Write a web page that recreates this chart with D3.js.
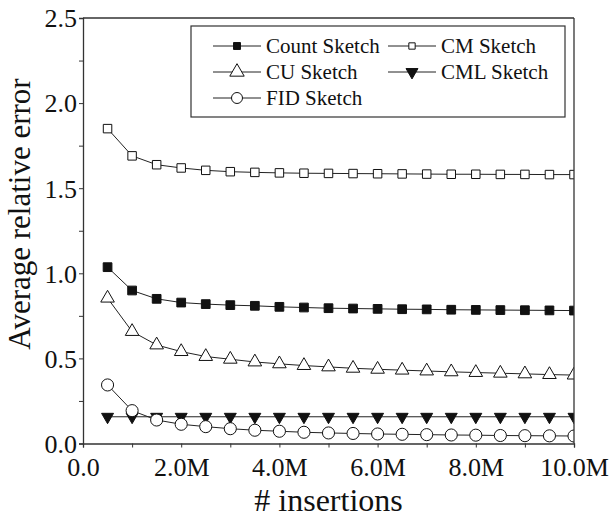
<!DOCTYPE html>
<html>
<head>
<meta charset="utf-8">
<script src="https://cdn.jsdelivr.net/npm/d3@7"></script>
<style>
  body { margin: 0; background: #fff; }
  svg { display: block; }
  svg text { fill: #111; }
</style>
</head>
<body>
<div id="chart"></div>
<script>
// insertions, in millions
var insertions = [0.5, 1.0, 1.5, 2.0, 2.5, 3.0, 3.5, 4.0, 4.5, 5.0,
                  5.5, 6.0, 6.5, 7.0, 7.5, 8.0, 8.5, 9.0, 9.5, 10.0];

var countSketch = [1.036, 0.899, 0.850, 0.828, 0.819, 0.813, 0.809, 0.803, 0.799, 0.795,
                   0.793, 0.791, 0.789, 0.788, 0.786, 0.785, 0.784, 0.783, 0.782, 0.781];
var cmSketch = [1.850, 1.690, 1.638, 1.619, 1.605, 1.597, 1.593, 1.590, 1.588, 1.587,
                1.586, 1.585, 1.584, 1.583, 1.582, 1.582, 1.581, 1.581, 1.580, 1.580];
var cuSketch = [0.854, 0.658, 0.579, 0.540, 0.511, 0.495, 0.479, 0.468, 0.458, 0.450,
                0.442, 0.436, 0.431, 0.426, 0.421, 0.417, 0.413, 0.409, 0.405, 0.402];
var cmlSketch = [0.157, 0.157, 0.157, 0.157, 0.157, 0.157, 0.157, 0.157, 0.157, 0.157,
                 0.157, 0.157, 0.157, 0.157, 0.157, 0.157, 0.157, 0.157, 0.157, 0.157];
var fidSketch = [0.344, 0.193, 0.138, 0.113, 0.099, 0.087, 0.078, 0.072, 0.066, 0.062,
                 0.059, 0.056, 0.054, 0.052, 0.050, 0.049, 0.047, 0.046, 0.045, 0.044];

var seriesNames = ["Count Sketch", "CM Sketch", "CU Sketch", "CML Sketch", "FID Sketch"];

var xTicks = [0, 2, 4, 6, 8, 10];
var xTickLabels = ["0.0", "2.0M", "4.0M", "6.0M", "8.0M", "10.0M"];
var yTicks = [0, 0.5, 1.0, 1.5, 2.0, 2.5];

var serif = "'Times New Roman', 'Liberation Serif', 'DejaVu Serif', serif";

var width = 609, height = 519;
var margin = {left: 83, right: 35, top: 18, bottom: 75.5};
var innerW = width - margin.left - margin.right;
var innerH = height - margin.top - margin.bottom;

var svg = d3.select("#chart").append("svg")
    .attr("width", width)
    .attr("height", height)
    .attr("font-family", serif);

var x = d3.scaleLinear().domain([0, 10]).range([0, innerW]);
var y = d3.scaleLinear().domain([0, 2.5]).range([innerH, 0]);

var g = svg.append("g")
    .attr("transform", "translate(" + margin.left + "," + margin.top + ")");

// clip so the last markers are cut by the frame like the original
svg.append("defs").append("clipPath").attr("id", "plotclip")
  .append("rect").attr("x", 0).attr("y", -10).attr("width", innerW).attr("height", innerH + 10);

// marker shapes (symbol + fill)
var styles = [
  {sym: d3.symbolSquare, size: 76, fill: "#111", rot: 0},
  {sym: d3.symbolSquare, size: 72, fill: "#fff", rot: 0},
  {sym: d3.symbolTriangle, size: 80, fill: "#fff", rot: 0},
  {sym: d3.symbolTriangle, size: 62, fill: "#111", rot: 180},
  {sym: d3.symbolCircle, size: 115, fill: "#fff", rot: 0}
];
var allSeries = [countSketch, cmSketch, cuSketch, cmlSketch, fidSketch];

var line = d3.line()
    .x(function(d, i) { return x(insertions[i]); })
    .y(function(d) { return y(d); });

var plot = g.append("g").attr("clip-path", "url(#plotclip)");

allSeries.forEach(function(vals, k) {
  var st = styles[k];
  plot.append("path")
      .datum(vals)
      .attr("d", line)
      .attr("fill", "none")
      .attr("stroke", "#222")
      .attr("stroke-width", 1);
  plot.selectAll(".m" + k)
      .data(vals)
      .enter()
      .append("path")
      .attr("class", "m" + k)
      .attr("d", d3.symbol().type(st.sym).size(st.size))
      .attr("transform", function(d, i) {
        return "translate(" + x(insertions[i]) + "," + y(d) + ") rotate(" + st.rot + ")";
      })
      .attr("fill", st.fill)
      .attr("stroke", "#111")
      .attr("stroke-width", 1);
});

// axes
var xAxis = d3.axisBottom(x)
    .tickValues(d3.range(0, 11, 1))
    .tickSize(4)
    .tickFormat(function(d) { var i = xTicks.indexOf(d); return i >= 0 ? xTickLabels[i] : ""; });
var yAxis = d3.axisLeft(y)
    .tickValues(d3.range(0, 2.51, 0.25))
    .tickSize(4)
    .tickFormat(function(d) { return yTicks.some(function(t) { return Math.abs(t - d) < 1e-6; }) ? d3.format(".1f")(d) : ""; });

var gx = g.append("g").attr("transform", "translate(0," + innerH + ")").call(xAxis);
var gy = g.append("g").call(yAxis);

[gx, gy].forEach(function(a) {
  a.attr("font-family", serif).attr("font-size", 26);
  a.select(".domain").attr("stroke", "#333").attr("stroke-width", 1.3);
  a.selectAll(".tick line").attr("stroke", "#333").attr("stroke-width", 1);
  a.selectAll(".tick text").attr("fill", "#111");
});
gx.selectAll(".tick text").attr("y", 14).attr("dy", "0.71em");
gy.selectAll(".tick text").attr("x", -6).attr("dy", "0.34em");

// top and right frame
g.append("line").attr("x1", 0).attr("x2", innerW).attr("y1", 0).attr("y2", 0)
    .attr("stroke", "#333").attr("stroke-width", 1.3);
g.append("line").attr("x1", innerW).attr("x2", innerW).attr("y1", 0).attr("y2", innerH)
    .attr("stroke", "#333").attr("stroke-width", 1.3);

// axis titles
svg.append("text")
    .attr("x", margin.left + innerW / 2)
    .attr("y", 511)
    .attr("text-anchor", "middle")
    .attr("font-size", 32)
    .text("# insertions");

svg.append("text")
    .attr("transform", "translate(30,214) rotate(-90)")
    .attr("text-anchor", "middle")
    .attr("font-size", 31)
    .text("Average relative error");

// legend
var legend = svg.append("g");
legend.append("rect")
    .attr("x", 191).attr("y", 26)
    .attr("width", 374).attr("height", 91)
    .attr("fill", "#fff")
    .attr("stroke", "#333")
    .attr("stroke-width", 1.2);

var legendPos = [
  {lx: 213, ty: 46}, {lx: 388, ty: 46},
  {lx: 213, ty: 72}, {lx: 388, ty: 72},
  {lx: 213, ty: 98}
];
var legendSizes = [48, 40, 90, 62, 95];

seriesNames.forEach(function(name, k) {
  var p = legendPos[k], st = styles[k];
  legend.append("line")
      .attr("x1", p.lx).attr("x2", p.lx + 48)
      .attr("y1", p.ty).attr("y2", p.ty)
      .attr("stroke", "#222").attr("stroke-width", 1);
  legend.append("path")
      .attr("d", d3.symbol().type(st.sym).size(legendSizes[k]))
      .attr("transform", "translate(" + (p.lx + 24) + "," + p.ty + ") rotate(" + st.rot + ")")
      .attr("fill", st.fill)
      .attr("stroke", "#111")
      .attr("stroke-width", 1);
  legend.append("text")
      .attr("x", p.lx + 53)
      .attr("y", p.ty)
      .attr("dy", "0.35em")
      .attr("font-size", 21)
      .text(name);
});
</script>
</body>
</html>
